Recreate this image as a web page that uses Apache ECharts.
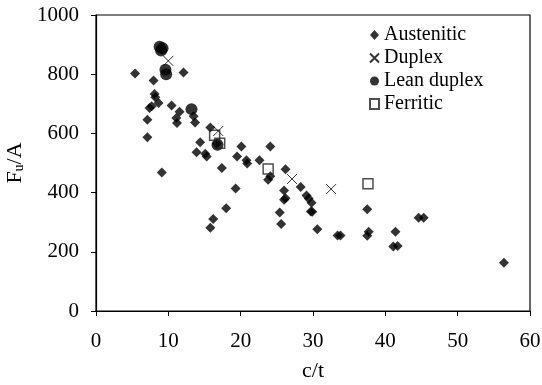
<!DOCTYPE html>
<html>
<head>
<meta charset="utf-8">
<script src="https://cdn.jsdelivr.net/npm/echarts@6/dist/echarts.min.js"></script>
<style>html,body{margin:0;padding:0;background:#fff}#c{width:542px;height:385px}</style>
</head>
<body>
<div id="c"></div>
<script>
var seriesNames = ['Austenitic', 'Duplex', 'Lean duplex', 'Ferritic'];
var austenitic = [
  [5.4, 802], [7.96, 779], [8.1, 733], [8.2, 722], [8.65, 703], [7.4, 686], [7.7, 692],
  [10.45, 694], [11.55, 673], [11.1, 652], [11.2, 635], [7.1, 646], [7.1, 587], [12.1, 806],
  [13.5, 658], [13.7, 637], [15.8, 620], [16.7, 565], [14.4, 570], [13.9, 536], [15.1, 531],
  [15.3, 522], [9.1, 468], [17.4, 483], [20.1, 556], [19.5, 522], [20.8, 509], [20.9, 498],
  [22.6, 509], [24.1, 556], [24.1, 455], [23.8, 443], [19.3, 414], [26.2, 479], [28.3, 419],
  [26.0, 407], [26.0, 376], [26.2, 381], [29.1, 390], [29.4, 380], [29.8, 366], [29.7, 336],
  [29.9, 335], [30.6, 276], [33.4, 255], [33.8, 255], [18.0, 347], [16.2, 311], [15.8, 281],
  [25.4, 333], [25.6, 294], [37.5, 344], [37.7, 268], [37.5, 254], [41.4, 268], [41.1, 218],
  [41.7, 220], [44.6, 315], [45.3, 315], [56.4, 163]
];
var duplex = [[10.0, 845], [16.9, 608], [27.1, 446], [32.5, 412]];
var leanDuplex = [[8.8, 893], [9.2, 888], [9.0, 880], [9.6, 815], [9.7, 800], [13.2, 682], [16.8, 562]];
var ferritic = [[16.4, 594], [17.1, 567], [23.8, 480], [37.6, 430]];
var xTicks = [0, 10, 20, 30, 40, 50, 60];
var yTicks = [0, 200, 400, 600, 800, 1000];

var font = 'Liberation Serif, Times New Roman, serif';
var chart = echarts.init(document.getElementById('c'));
chart.setOption({
  animation: false,
  backgroundColor: '#fff',
  grid: { left: 96, right: 12, top: 15, bottom: 74, containLabel: false, outerBoundsMode: 'none',
    show: true, borderColor: '#000', borderWidth: 1.2, backgroundColor: 'transparent' },
  legend: {
    orient: 'vertical', left: 364, top: 20, itemWidth: 9, itemHeight: 10, itemGap: 3,
    textStyle: { fontFamily: font, fontSize: 20, color: '#000', padding: [0,0,0,0] },
    data: seriesNames
  },
  xAxis: {
    type: 'value', min: xTicks[0], max: xTicks[xTicks.length - 1], interval: 10,
    name: 'c/t', nameLocation: 'middle', nameGap: 49,
    nameTextStyle: { fontFamily: font, fontSize: 22, color: '#000' },
    axisLine: { onZero: false, lineStyle: { color: '#000', width: 1.2 } },
    axisTick: { show: true, inside: false, length: 5, lineStyle: { color: '#000' } },
    axisLabel: { fontFamily: font, fontSize: 21, color: '#000', margin: 20, hideOverlap: false, formatter: function (v) { return String(v); } },
    splitLine: { show: false }
  },
  yAxis: {
    type: 'value', min: yTicks[0], max: yTicks[yTicks.length - 1], interval: 200,
    name: '{a|F}{b|u}{a|/A}', nameLocation: 'middle', nameGap: 67, nameRotate: 90,
    nameTextStyle: {
      fontFamily: font, fontSize: 22, color: '#000',
      rich: {
        a: { fontFamily: font, fontSize: 22, color: '#000' },
        b: { fontFamily: font, fontSize: 14, color: '#000', padding: [8, 0, 0, 0] }
      }
    },
    axisLine: { onZero: false, lineStyle: { color: '#000', width: 1.2 } },
    axisTick: { show: true, inside: false, length: 5, lineStyle: { color: '#000' } },
    axisLabel: { fontFamily: font, fontSize: 21, color: '#000', margin: 17, formatter: function (v) { return String(v); } },
    splitLine: { show: false }
  },
  series: [
    { name: seriesNames[0], type: 'scatter', data: austenitic, symbol: 'diamond', symbolSize: 10,
      itemStyle: { color: '#000' } },
    { name: seriesNames[1], type: 'scatter', data: duplex, symbol: 'path://M0,0L10,10M10,0L0,10', symbolSize: 10,
      itemStyle: { color: 'transparent', borderColor: '#000', borderWidth: 1 } },
    { name: seriesNames[2], type: 'scatter', data: leanDuplex, symbol: 'circle', symbolSize: 12,
      itemStyle: { color: '#000' } },
    { name: seriesNames[3], type: 'scatter', data: ferritic, symbol: 'rect', symbolSize: 10,
      itemStyle: { color: 'rgba(255,255,255,0)', borderColor: '#222', borderWidth: 1.5 } }
  ]
});
</script>
</body>
</html>
